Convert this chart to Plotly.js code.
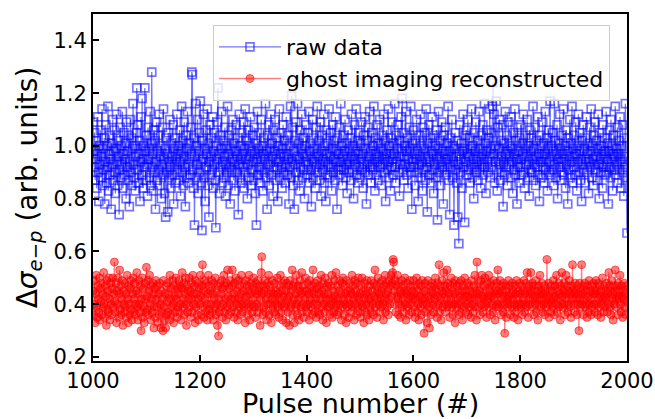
<!DOCTYPE html>
<html>
<head>
<meta charset="utf-8">
<script src="https://cdn.plot.ly/plotly-3.0.1.min.js"></script>
<style>html,body{margin:0;padding:0;background:#fff;}#chart{width:655px;height:419px;}</style>
</head>
<body>
<div id="chart"></div>
<script>
const firstPulse = 1000;
const seriesNames = ["raw data", "ghost imaging reconstructed"];
const xTitle = "Pulse number (#)";
const xTickVals = [1000, 1200, 1400, 1600, 1800, 2000];
const yTickVals = [0.2, 0.4, 0.6, 0.8, 1.0, 1.2, 1.4];
const yTickText = ["0.2", "0.4", "0.6", "0.8", "1.0", "1.2", "1.4"];

const rawData = [
1.09,0.98,0.92,1.05,0.87,0.95,1.02,0.84,0.97,1.11,0.90,0.79,1.00,0.93,1.06,0.88,0.96,1.14,0.85,0.99,
0.91,1.03,0.78,0.94,1.08,0.86,1.00,0.92,1.15,0.83,0.97,1.04,0.89,0.95,0.76,1.01,0.93,1.10,0.87,0.98,
1.06,0.90,0.82,0.99,1.12,0.94,0.85,1.02,0.96,0.74,0.91,1.07,0.88,1.00,0.93,1.13,0.84,0.97,1.05,0.89,
0.95,1.01,0.80,1.09,0.92,0.98,0.87,1.04,0.77,0.94,1.10,0.90,1.03,0.85,0.99,1.16,0.93,0.88,1.00,0.83,
0.96,1.05,1.22,0.91,1.08,0.86,0.97,1.02,0.79,0.94,1.11,0.89,1.18,0.95,0.84,1.00,0.92,1.22,0.98,0.87,
1.04,0.93,0.81,1.07,0.95,0.99,0.88,1.13,0.85,1.01,1.28,0.92,0.97,0.83,1.06,0.90,1.02,0.76,0.94,1.09,
0.87,0.98,1.04,0.91,1.12,0.85,0.96,1.00,0.80,0.93,1.07,0.89,1.14,0.95,0.82,0.99,0.73,1.03,0.90,0.97,
0.75,1.05,0.88,0.94,1.10,0.92,0.84,1.01,0.96,0.89,1.08,0.78,0.99,0.93,1.03,0.86,0.95,1.12,0.91,0.97,
1.00,0.87,1.06,0.94,0.81,0.98,1.15,0.90,1.02,0.85,0.96,1.09,0.92,0.77,1.04,0.88,0.99,1.13,0.93,0.86,
1.01,0.95,0.89,1.07,0.97,1.28,1.27,0.91,0.84,1.03,0.70,0.96,1.16,0.88,1.00,0.93,1.10,0.82,0.98,1.05,
0.90,1.17,0.94,0.86,0.68,1.02,0.95,1.12,0.88,0.99,0.79,1.06,0.92,0.97,1.14,0.85,1.01,0.73,0.94,1.08,
0.89,0.96,1.03,0.91,1.11,0.84,0.98,0.93,1.05,0.87,0.69,1.00,0.95,1.09,1.22,0.90,0.97,0.82,1.04,0.92,
0.99,1.13,0.86,0.94,1.02,0.88,0.96,1.07,0.81,0.93,1.00,0.90,1.15,0.85,0.97,1.04,0.92,0.78,0.99,1.06,
0.91,0.95,1.10,0.87,1.01,0.94,0.83,0.98,1.08,0.90,0.96,1.03,0.74,0.93,1.12,0.88,1.00,0.95,0.86,1.05,
0.97,0.92,1.09,0.84,0.99,1.14,0.90,0.95,1.02,0.80,0.93,1.06,0.88,1.00,0.96,1.11,0.85,0.98,0.91,1.04,
0.94,0.87,1.07,0.97,0.82,1.01,0.70,0.95,1.13,0.89,0.99,0.92,1.05,0.86,0.96,1.10,0.91,1.00,0.83,0.97,
1.03,0.90,0.95,1.16,0.88,0.98,0.76,1.04,0.93,1.08,0.85,0.99,0.94,1.12,0.89,1.01,0.96,0.81,1.06,0.92,
0.98,1.10,0.87,0.95,1.03,0.91,0.79,1.00,0.94,1.14,0.88,0.97,1.05,0.92,0.84,0.99,1.08,0.90,0.96,1.02,
0.86,0.93,1.11,0.97,0.89,1.04,0.95,0.78,1.00,0.92,1.15,0.88,1.19,0.94,1.07,0.85,0.98,0.76,1.02,0.93,
1.09,0.90,0.96,1.16,0.87,1.01,0.95,0.83,1.06,0.92,0.99,1.12,0.88,0.97,1.03,0.91,0.80,1.00,0.94,1.08,
0.96,0.89,1.05,0.93,1.13,0.86,0.98,1.01,0.91,0.77,0.95,1.10,0.88,1.03,0.94,0.99,0.84,1.07,0.92,0.97,
1.15,0.90,0.96,1.02,0.87,0.93,1.09,0.81,0.98,1.04,0.91,0.95,1.12,0.86,1.00,0.94,0.79,1.06,0.97,0.89,
1.01,0.93,1.14,0.88,0.96,1.05,0.92,0.83,0.99,1.08,0.90,0.95,1.02,0.87,1.11,0.94,0.98,0.76,1.03,0.91,
0.97,1.07,0.89,0.94,1.16,0.92,1.00,0.85,0.96,1.04,0.91,0.98,1.10,0.88,0.93,1.01,0.82,0.95,1.06,0.90,
0.99,0.94,1.03,0.87,1.12,0.96,0.91,1.00,0.80,0.95,1.08,0.93,0.98,1.14,0.89,1.02,0.86,0.97,1.05,0.92,
0.88,1.01,0.95,1.09,0.91,0.97,0.84,1.04,0.93,1.11,0.90,0.99,0.78,1.02,0.94,1.07,0.89,0.96,1.13,0.92,
0.98,0.86,1.05,0.93,1.00,0.91,1.15,0.95,0.83,1.03,0.97,0.89,1.08,0.94,1.01,0.87,0.96,1.10,0.92,0.99,
0.85,1.04,0.93,0.98,1.12,0.90,0.95,1.02,0.79,0.97,1.06,0.91,0.94,1.14,0.88,1.00,0.96,0.83,1.03,0.92,
1.09,0.95,0.89,1.01,0.97,1.16,0.92,0.86,1.04,0.94,0.99,1.08,0.90,0.96,0.81,1.02,0.93,1.11,0.98,1.18,
0.91,1.05,0.87,0.96,1.00,0.93,1.13,0.89,0.98,1.03,0.84,0.95,1.07,0.92,0.99,1.15,0.90,0.76,1.01,0.94,
1.06,0.92,0.97,0.85,1.02,0.95,1.10,0.90,0.98,0.79,1.04,0.93,0.96,1.12,0.88,1.00,0.94,0.83,1.07,0.91,
0.99,1.05,0.87,0.95,1.14,0.92,0.75,1.01,0.96,1.08,0.89,0.94,1.03,0.86,0.98,1.11,0.91,0.97,0.82,1.04,
0.93,1.00,0.88,1.06,0.95,0.72,0.99,1.13,0.90,0.96,1.02,0.85,0.94,1.09,0.92,0.98,0.78,1.04,0.91,0.97,
1.07,0.89,0.95,1.01,0.93,1.15,0.87,0.98,0.74,1.03,0.92,0.96,1.10,0.88,1.00,0.94,0.70,0.99,1.05,0.91,
0.96,0.86,1.02,0.73,0.93,0.63,0.97,1.08,0.90,0.95,1.01,0.84,0.98,1.12,0.92,0.99,0.71,1.04,0.94,1.06,
0.89,0.97,1.10,0.91,0.96,1.03,0.86,0.99,0.93,1.14,0.88,1.00,0.95,0.80,1.05,0.92,0.98,1.09,0.90,0.94,
1.02,0.87,0.96,1.13,0.91,0.99,0.84,1.04,0.93,0.97,1.08,0.89,0.95,1.16,0.92,1.01,0.82,0.98,1.06,0.94,
0.90,1.03,0.96,1.14,0.88,0.99,1.05,0.92,1.15,1.24,0.97,1.12,0.86,1.00,0.94,1.17,0.91,0.83,1.07,0.95,
0.99,1.10,0.93,0.87,1.02,0.96,0.90,1.08,0.77,0.94,1.01,0.89,1.13,0.97,0.92,1.04,0.85,0.98,1.09,0.93,
0.96,1.00,0.88,1.11,0.94,0.99,0.82,1.05,0.91,0.97,1.14,0.89,1.02,0.95,0.78,1.07,0.93,0.98,0.86,1.03,
0.92,1.08,0.95,0.89,1.01,0.97,1.12,0.90,0.84,0.99,1.04,0.93,0.96,1.10,0.88,1.00,0.94,0.81,1.06,0.91,
0.98,1.03,0.90,0.95,1.15,0.87,0.99,0.93,1.07,0.85,0.96,1.02,0.92,1.11,0.89,0.97,0.79,1.04,0.94,1.00,
0.88,0.96,1.09,0.92,1.01,0.86,0.97,1.13,0.91,0.95,1.03,0.83,0.99,1.06,0.90,0.94,1.17,0.89,1.00,0.96,
1.05,0.91,0.98,0.85,1.16,0.93,1.02,0.88,0.97,1.08,0.80,0.95,1.01,0.92,1.12,0.87,0.99,0.94,1.04,0.90,
0.97,1.14,0.89,0.95,1.00,0.84,1.06,0.93,0.98,0.78,1.03,0.91,0.96,1.10,0.88,1.01,0.94,1.15,0.86,0.99,
0.92,1.04,0.96,0.89,1.09,0.97,0.83,1.00,0.94,1.12,0.90,0.98,1.05,0.87,0.95,0.79,1.02,0.93,1.08,0.91,
0.99,0.86,1.03,0.95,1.11,0.90,0.97,1.01,0.82,0.94,1.07,0.92,0.98,1.14,0.88,1.00,0.95,0.85,1.04,0.93,
1.09,0.91,0.96,1.02,0.87,0.99,1.12,0.93,0.80,1.05,0.95,0.90,1.00,0.97,0.84,1.08,0.92,0.98,1.03,0.89,
0.96,1.13,0.90,0.94,1.01,0.78,0.98,1.06,0.92,0.88,1.10,0.95,1.00,0.83,0.97,1.04,0.91,0.96,1.15,0.89,
0.99,0.93,1.07,0.86,0.97,1.02,0.91,1.11,0.95,0.84,1.00,0.94,1.08,0.90,0.81,1.03,0.96,1.16,0.92,0.88,
0.67
];

const ghostData = [
0.45,0.36,0.49,0.40,0.33,0.44,0.51,0.39,0.35,0.47,0.42,0.37,0.50,0.34,0.46,0.41,0.48,0.36,0.44,0.39,
0.52,0.40,0.35,0.47,0.43,0.32,0.49,0.38,0.45,0.37,0.50,0.42,0.34,0.48,0.40,0.36,0.46,0.50,0.39,0.44,
0.56,0.41,0.37,0.48,0.33,0.45,0.40,0.50,0.35,0.44,0.53,0.38,0.47,0.36,0.42,0.49,0.32,0.45,0.40,0.37,
0.48,0.39,0.44,0.35,0.51,0.42,0.33,0.47,0.40,0.36,0.46,0.49,0.38,0.34,0.44,0.50,0.37,0.42,0.48,0.40,
0.36,0.45,0.52,0.39,0.34,0.44,0.49,0.40,0.37,0.47,0.30,0.42,0.50,0.35,0.46,0.39,0.33,0.48,0.42,0.37,
0.54,0.43,0.38,0.49,0.36,0.45,0.51,0.40,0.34,0.47,0.42,0.37,0.48,0.44,0.31,0.39,0.46,0.35,0.49,0.42,
0.39,0.47,0.33,0.44,0.36,0.48,0.40,0.31,0.45,0.37,0.42,0.30,0.49,0.39,0.34,0.44,0.31,0.47,0.36,0.41,
0.48,0.37,0.44,0.34,0.51,0.42,0.36,0.46,0.39,0.49,0.40,0.33,0.47,0.43,0.37,0.50,0.42,0.35,0.46,0.39,
0.44,0.49,0.37,0.47,0.40,0.34,0.46,0.52,0.39,0.42,0.48,0.36,0.44,0.50,0.40,0.32,0.47,0.37,0.45,0.42,
0.50,0.39,0.45,0.35,0.48,0.42,0.37,0.51,0.44,0.40,0.47,0.33,0.49,0.39,0.44,0.36,0.48,0.42,0.34,0.46,
0.40,0.51,0.43,0.36,0.47,0.55,0.39,0.45,0.35,0.49,0.42,0.37,0.48,0.40,0.34,0.44,0.51,0.38,0.47,0.36,
0.45,0.40,0.49,0.37,0.44,0.34,0.48,0.42,0.39,0.50,0.36,0.45,0.40,0.32,0.47,0.28,0.42,0.37,0.48,0.39,
0.44,0.49,0.35,0.46,0.40,0.51,0.37,0.47,0.42,0.34,0.48,0.39,0.53,0.43,0.36,0.46,0.40,0.49,0.37,0.42,
0.47,0.53,0.39,0.44,0.35,0.48,0.42,0.37,0.50,0.40,0.45,0.34,0.49,0.42,0.39,0.47,0.36,0.44,0.51,0.40,
0.37,0.45,0.48,0.39,0.42,0.33,0.49,0.43,0.40,0.47,0.36,0.45,0.51,0.39,0.34,0.44,0.48,0.40,0.37,0.47,
0.42,0.50,0.39,0.45,0.35,0.48,0.40,0.44,0.37,0.49,0.45,0.39,0.47,0.32,0.42,0.52,0.58,0.44,0.36,0.47,
0.39,0.45,0.49,0.37,0.42,0.34,0.48,0.40,0.44,0.51,0.36,0.47,0.40,0.45,0.33,0.42,0.49,0.39,0.44,0.37,
0.48,0.42,0.36,0.45,0.40,0.50,0.39,0.44,0.35,0.47,0.42,0.51,0.37,0.45,0.40,0.34,0.48,0.43,0.39,0.49,
0.40,0.45,0.33,0.48,0.42,0.37,0.47,0.43,0.32,0.49,0.39,0.45,0.40,0.53,0.36,0.47,0.42,0.33,0.48,0.39,
0.44,0.51,0.40,0.36,0.47,0.42,0.34,0.45,0.49,0.39,0.44,0.52,0.37,0.47,0.40,0.35,0.45,0.42,0.50,0.39,
0.45,0.37,0.48,0.40,0.44,0.34,0.49,0.42,0.39,0.47,0.36,0.45,0.53,0.40,0.44,0.37,0.48,0.42,0.35,0.46,
0.40,0.49,0.37,0.44,0.47,0.36,0.42,0.51,0.39,0.45,0.34,0.48,0.40,0.44,0.37,0.50,0.42,0.33,0.47,0.39,
0.44,0.48,0.39,0.42,0.36,0.47,0.40,0.51,0.35,0.45,0.42,0.37,0.49,0.43,0.39,0.52,0.40,0.36,0.47,0.42,
0.37,0.45,0.49,0.40,0.44,0.34,0.48,0.39,0.50,0.42,0.36,0.47,0.40,0.44,0.33,0.49,0.39,0.45,0.42,0.35,
0.48,0.40,0.45,0.37,0.44,0.51,0.39,0.47,0.42,0.34,0.49,0.40,0.45,0.36,0.48,0.43,0.39,0.50,0.42,0.37,
0.44,0.35,0.47,0.40,0.50,0.39,0.45,0.33,0.42,0.48,0.37,0.44,0.40,0.49,0.36,0.45,0.42,0.34,0.47,0.39,
0.42,0.49,0.37,0.45,0.40,0.36,0.48,0.43,0.53,0.39,0.47,0.42,0.35,0.45,0.50,0.40,0.44,0.37,0.48,0.42,
0.39,0.45,0.49,0.40,0.34,0.47,0.42,0.51,0.37,0.44,0.48,0.39,0.45,0.36,0.42,0.49,0.40,0.47,0.51,0.43,
0.48,0.52,0.57,0.56,0.45,0.40,0.49,0.37,0.47,0.43,0.51,0.42,0.36,0.48,0.40,0.45,0.35,0.44,0.49,0.39,
0.47,0.42,0.37,0.45,0.50,0.40,0.34,0.44,0.48,0.39,0.45,0.42,0.36,0.49,0.40,0.47,0.43,0.37,0.45,0.42,
0.49,0.39,0.44,0.35,0.47,0.42,0.50,0.37,0.45,0.40,0.34,0.48,0.43,0.39,0.47,0.36,0.42,0.49,0.40,0.45,
0.29,0.42,0.48,0.37,0.45,0.40,0.33,0.49,0.43,0.39,0.31,0.47,0.42,0.36,0.45,0.48,0.40,0.44,0.37,0.47,
0.42,0.50,0.39,0.45,0.35,0.48,0.43,0.40,0.55,0.37,0.47,0.42,0.34,0.45,0.49,0.39,0.44,0.52,0.40,0.47,
0.37,0.45,0.42,0.53,0.39,0.48,0.40,0.44,0.35,0.47,0.42,0.50,0.39,0.45,0.36,0.48,0.40,0.44,0.33,0.49,
0.42,0.39,0.47,0.40,0.45,0.36,0.48,0.43,0.37,0.49,0.40,0.45,0.34,0.47,0.42,0.39,0.50,0.43,0.37,0.45,
0.40,0.48,0.43,0.36,0.47,0.39,0.45,0.42,0.35,0.49,0.40,0.44,0.37,0.47,0.42,0.51,0.39,0.45,0.34,0.56,
0.44,0.39,0.48,0.42,0.45,0.36,0.49,0.40,0.51,0.43,0.37,0.47,0.42,0.39,0.50,0.45,0.40,0.35,0.48,0.43,
0.42,0.51,0.39,0.45,0.36,0.48,0.43,0.40,0.47,0.37,0.49,0.42,0.45,0.34,0.44,0.39,0.48,0.40,0.53,0.45,
0.39,0.44,0.49,0.40,0.36,0.47,0.42,0.45,0.37,0.48,0.43,0.29,0.40,0.47,0.35,0.45,0.42,0.39,0.49,0.43,
0.40,0.47,0.36,0.44,0.39,0.48,0.42,0.45,0.35,0.40,0.47,0.37,0.44,0.49,0.39,0.42,0.34,0.45,0.40,0.48,
0.44,0.39,0.47,0.40,0.36,0.45,0.42,0.49,0.37,0.44,0.40,0.48,0.39,0.52,0.45,0.35,0.42,0.47,0.40,0.44,
0.52,0.45,0.39,0.48,0.42,0.36,0.47,0.43,0.40,0.49,0.37,0.45,0.42,0.34,0.47,0.40,0.44,0.51,0.39,0.45,
0.42,0.48,0.37,0.44,0.40,0.47,0.36,0.45,0.42,0.39,0.57,0.43,0.40,0.48,0.35,0.45,0.42,0.37,0.47,0.40,
0.45,0.39,0.49,0.42,0.36,0.47,0.43,0.40,0.51,0.37,0.45,0.42,0.48,0.39,0.44,0.34,0.47,0.40,0.52,0.43,
0.39,0.45,0.48,0.40,0.36,0.44,0.51,0.42,0.47,0.37,0.45,0.40,0.49,0.39,0.44,0.35,0.47,0.42,0.55,0.45,
0.40,0.44,0.37,0.48,0.42,0.45,0.36,0.47,0.40,0.44,0.30,0.48,0.42,0.39,0.45,0.55,0.40,0.44,0.36,0.47,
0.42,0.48,0.39,0.45,0.40,0.35,0.47,0.43,0.37,0.49,0.40,0.45,0.42,0.36,0.47,0.39,0.44,0.48,0.40,0.45,
0.37,0.44,0.49,0.40,0.45,0.36,0.48,0.42,0.39,0.47,0.43,0.35,0.45,0.40,0.50,0.42,0.37,0.47,0.43,0.39,
0.45,0.42,0.48,0.37,0.44,0.40,0.52,0.47,0.39,0.45,0.36,0.49,0.42,0.44,0.34,0.47,0.40,0.45,0.53,0.42,
0.39,0.47,0.43,0.36,0.48,0.42,0.45,0.51,0.40,0.37,0.47,0.43,0.35,0.45,0.42,0.48,0.39,0.44,0.36,0.47,
0.41
];

const pulses = rawData.map((_, i) => firstPulse + i);
const FONT = "DejaVu Sans, sans-serif";

const traces = [
  {
    x: pulses, y: rawData, name: seriesNames[0], type: "scatter", mode: "lines+markers",
    line: {color: "rgba(0,0,255,0.55)", width: 1.3},
    marker: {symbol: "square-open", size: 8, color: "rgba(0,0,255,0.55)", line: {color: "rgba(0,0,255,0.55)", width: 1.7}}
  },
  {
    x: pulses, y: ghostData, name: seriesNames[1], type: "scatter", mode: "lines+markers",
    line: {color: "rgba(255,0,0,0.5)", width: 1.3},
    marker: {symbol: "circle", size: 8, color: "rgba(255,0,0,0.5)", line: {color: "rgba(255,0,0,0.55)", width: 1}}
  }
];

const axisCommon = {
  showline: true, linecolor: "black", linewidth: 2, mirror: true,
  ticks: "inside", ticklen: 6, tickwidth: 2, tickcolor: "black",
  showgrid: false, zeroline: false, automargin: false,
  tickfont: {family: FONT, size: 21, color: "black"}
};

const layout = {
  width: 655, height: 419,
  margin: {l: 93, r: 28, t: 14, b: 58},
  paper_bgcolor: "white", plot_bgcolor: "white",
  showlegend: true,
  legend: {
    x: 0.2247, y: 0.968, xanchor: "left", yanchor: "top",
    itemwidth: 62,
    bgcolor: "rgba(255,255,255,0.8)", bordercolor: "#cccccc", borderwidth: 1,
    font: {family: FONT, size: 22, color: "black"}
  },
  xaxis: Object.assign({}, axisCommon, {
    range: [1000, 2000], tickmode: "array", tickvals: xTickVals
  }),
  yaxis: Object.assign({}, axisCommon, {
    range: [0.185, 1.50], tickmode: "array", tickvals: yTickVals, ticktext: yTickText,
    title: {text: "Δ<i>σ</i><sub><i>e</i>−<i>p</i></sub> (arb. units)", font: {family: FONT, size: 28, color: "black"}, standoff: 8}
  }),
  annotations: [{
    text: xTitle, xref: "paper", yref: "paper", x: 0.5, y: 0,
    xanchor: "center", yanchor: "top", yshift: -25, showarrow: false,
    font: {family: FONT, size: 27, color: "black"}
  }]
};

Plotly.newPlot("chart", traces, layout, {displayModeBar: false, staticPlot: true});
</script>
</body>
</html>
